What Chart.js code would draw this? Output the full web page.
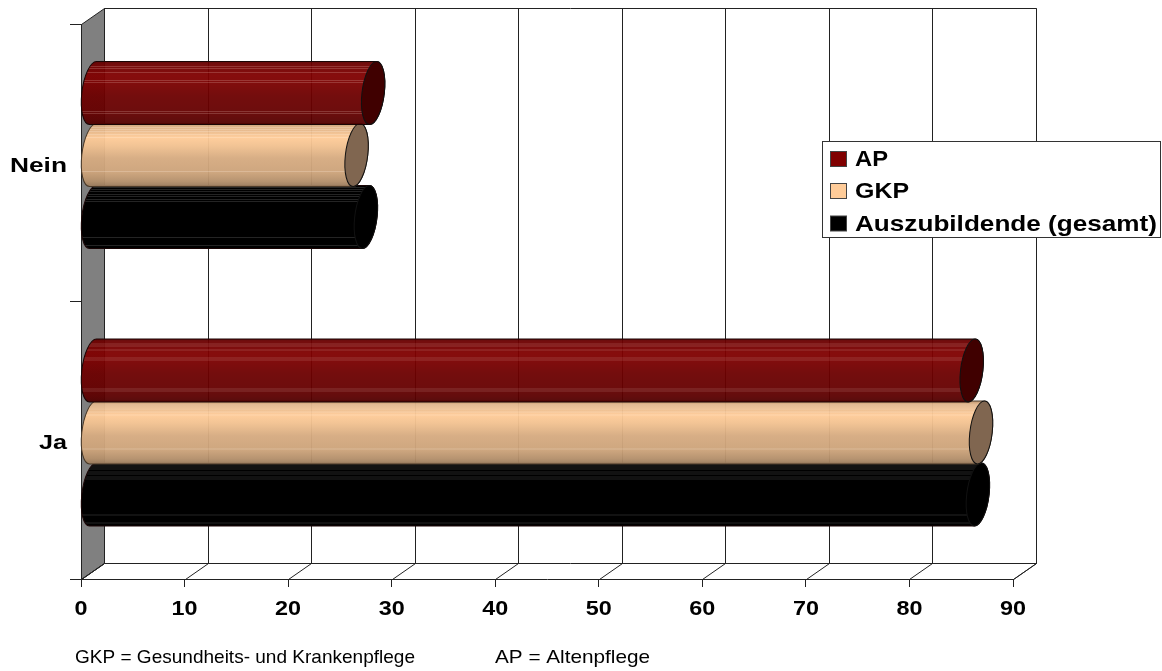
<!DOCTYPE html>
<html><head><meta charset="utf-8">
<style>html,body{margin:0;padding:0;background:#fff}#w{width:1162px;height:671px;position:relative}</style>
<script src="https://cdn.jsdelivr.net/npm/chart.js@4"></script></head>
<body><div id="w"><canvas id="c" width="1162" height="671"></canvas></div>
<script>
const categories = ['Nein', 'Ja'];
const apValues = [27.1, 84.9];
const gkpValues = [25.5, 85.8];
const totalValues = [26.4, 85.5];
const xTicks = [0, 10, 20, 30, 40, 50, 60, 70, 80, 90];
const seriesNames = ['AP', 'GKP', 'Auszubildende (gesamt)'];
const notes = ['GKP = Gesundheits- und Krankenpflege', 'AP = Altenpflege'];

const FONT = '"Liberation Sans", Arial, sans-serif';
const DX = 23, DY = -15.5;            // depth of the 3D box
const SKEW = -0.11;                   // tilt of cylinder ellipses
const LINE = '#222';

const looks = [
  { rgb: [128, 0, 0], cap: '#400000', alpha: .95, stripe: 'rgba(255,220,210,.20)',
    stripes: [.07, .11, .17, .29, .33, .79, .81] },
  { rgb: [255, 204, 153], cap: '#806650', alpha: .96, stripe: 'rgba(255,240,225,.25)',
    stripes: [.05, .08, .12, .16, .22, .76] },
  { rgb: [0, 0, 0], cap: '#000', alpha: 1, stripe: 'rgba(255,255,255,.14)',
    stripes: [.02, .05, .09, .13, .17, .22, .25, .81, .95] }
];
const shade = (rgb, f) => `rgb(${rgb.map(v => Math.round(v * f)).join(',')})`;

function stretchText(ctx, text, x, y, font, width, align) {
  ctx.save();
  ctx.font = font; ctx.textBaseline = 'middle'; ctx.fillStyle = '#000'; ctx.textAlign = 'left';
  const sx = width / ctx.measureText(text).width;
  const left = align === 'right' ? x - width : align === 'center' ? x - width / 2 : x;
  ctx.translate(left, y); ctx.scale(sx, 1);
  ctx.fillText(text, 0, 0);
  ctx.restore();
}

function drawCylinder(ctx, el, look) {
  const x0 = el.base + DX / 2, x1 = el.x + DX / 2, cy = el.y + DY / 2;
  const b = el.height / 2 + 0.5, a = 11.2;
  const path = () => {
    ctx.beginPath();
    ctx.ellipse(x0, 0, a, b, 0, Math.PI / 2, Math.PI * 1.5);
    ctx.lineTo(x1, -b);
    ctx.ellipse(x1, 0, a, b, 0, -Math.PI / 2, Math.PI / 2);
    ctx.closePath();
  };
  ctx.save();
  ctx.translate(0, cy);
  ctx.transform(1, 0, SKEW, 1, 0, 0);
  const g = ctx.createLinearGradient(0, -b, 0, b);
  [[0, .72], [.04, .85], [.22, 1], [.35, .95], [.55, .84], [.78, .8], [.92, .7], [1, .6]]
    .forEach(([p, f]) => g.addColorStop(p, shade(look.rgb, f)));
  path();
  ctx.globalAlpha = look.alpha; ctx.fillStyle = g; ctx.fill(); ctx.globalAlpha = 1;
  ctx.save(); path(); ctx.clip();
  ctx.fillStyle = look.stripe;
  look.stripes.forEach(p => ctx.fillRect(x0 - a, Math.round(-b + p * 2 * b), x1 - x0 + a, 1));
  ctx.restore();
  ctx.lineWidth = 1; ctx.strokeStyle = look.rgb[0] > 200 ? '#4a3a2a' : '#1a0505';
  path(); ctx.stroke();
  ctx.beginPath(); ctx.ellipse(x1, 0, a, b, 0, 0, Math.PI * 2);
  ctx.fillStyle = look.cap; ctx.fill();
  ctx.strokeStyle = '#111'; ctx.stroke();
  ctx.restore();
}

const box3d = {
  id: 'box3d',
  beforeDatasetsDraw(chart) {
    const { ctx, chartArea: ca, scales: { x } } = chart;
    const L = ca.left, T = ca.top, B = ca.bottom, R = ca.right;
    ctx.save();
    ctx.lineWidth = 1; ctx.strokeStyle = LINE;
    ctx.fillStyle = '#808080';
    ctx.beginPath();
    ctx.moveTo(L + .5, T + .5); ctx.lineTo(L + DX + .5, T + DY); ctx.lineTo(L + DX + .5, B + DY);
    ctx.lineTo(L + .5, B + .5); ctx.closePath(); ctx.fill(); ctx.stroke();
    ctx.beginPath();
    ctx.moveTo(L + DX + .5, T + DY); ctx.lineTo(R + DX + .5, T + DY); ctx.lineTo(R + DX + .5, B + DY);
    ctx.lineTo(L + DX + .5, B + DY);
    ctx.lineTo(L + .5, B + .5);
    ctx.moveTo(R + .5, B + .5); ctx.lineTo(R + DX + .5, B + DY);
    xTicks.forEach(v => {
      const px = Math.round(x.getPixelForValue(v)) + .5;
      ctx.moveTo(px + DX, T + DY); ctx.lineTo(px + DX, B + DY);
      ctx.moveTo(px, B + .5); ctx.lineTo(px + DX, B + DY);
    });
    ctx.stroke();
    ctx.restore();
  },
  beforeDatasetDraw(chart, args) {
    const meta = chart.getDatasetMeta(args.index);
    meta.data.forEach(el => drawCylinder(chart.ctx, el, looks[args.index]));
    return false;
  },
  afterDraw(chart) {
    const { ctx, scales: { x, y } } = chart;
    xTicks.forEach(v => stretchText(ctx, String(v), x.getPixelForValue(v), 609, `bold 21px ${FONT}`,
      String(v).length * 13, 'center'));
    categories.forEach((c, i) => stretchText(ctx, c, 67, y.getPixelForValue(i) + 3, `bold 21px ${FONT}`,
      c.length > 2 ? 57 : 28, 'right'));
    // legend
    ctx.save();
    ctx.fillStyle = '#fff'; ctx.strokeStyle = '#333'; ctx.lineWidth = 1;
    ctx.fillRect(822.5, 141.5, 338, 96); ctx.strokeRect(822.5, 141.5, 338, 96);
    const rows = [160, 192, 224.5], widths = [33, 54, 302];
    seriesNames.forEach((name, i) => {
      ctx.fillStyle = shade(looks[i].rgb, 1); ctx.strokeStyle = '#444';
      ctx.fillRect(830.5, rows[i] - 8.5, 16, 15); ctx.strokeRect(830.5, rows[i] - 8.5, 16, 15);
      stretchText(ctx, name, 855, rows[i], `bold 22px ${FONT}`, widths[i], 'left');
    });
    ctx.restore();
    stretchText(ctx, notes[0], 75, 657.5, `18.5px ${FONT}`, 340, 'left');
    stretchText(ctx, notes[1], 495, 657.5, `18.5px ${FONT}`, 155, 'left');
  }
};

new Chart(document.getElementById('c'), {
  type: 'bar',
  data: {
    labels: categories,
    datasets: [
      { label: seriesNames[0], data: apValues, backgroundColor: '#800000' },
      { label: seriesNames[1], data: gkpValues, backgroundColor: '#FFCC99' },
      { label: seriesNames[2], data: totalValues, backgroundColor: '#000000' }
    ]
  },
  options: {
    indexAxis: 'y',
    responsive: false,
    animation: false,
    categoryPercentage: .67,
    barPercentage: 1,
    layout: { padding: { top: 24, right: 149, left: 0, bottom: 0 } },
    plugins: { legend: { display: false }, tooltip: { enabled: false } },
    scales: {
      x: {
        min: 0, max: 90,
        afterFit(s) { s.height = 92; },
        afterBuildTicks(s) { s.ticks = xTicks.map(v => ({ value: v })); },
        ticks: { display: false },
        border: { display: true, color: LINE, width: 1 },
        grid: { display: true, drawOnChartArea: false, drawTicks: true, tickLength: 8, color: LINE, offset: false }
      },
      y: {
        afterFit(s) { s.width = 81; },
        ticks: { display: false },
        border: { display: true, color: LINE, width: 1 },
        grid: { display: true, drawOnChartArea: false, drawTicks: true, tickLength: 11, color: LINE, offset: true }
      }
    }
  },
  plugins: [box3d]
});
</script></body></html>
